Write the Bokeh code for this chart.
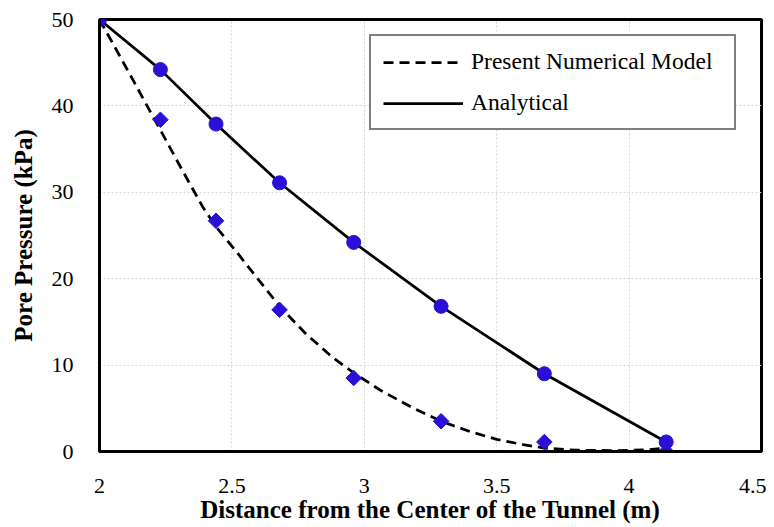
from bokeh.plotting import figure
from bokeh.models import Range1d, FixedTicker, Legend, LegendItem
from bokeh.embed import file_html
from bokeh.resources import INLINE

# ---- data ----
x_pts = [2.0, 2.23, 2.44, 2.68, 2.96, 3.29, 3.68, 4.14]
analytical = [50.0, 44.2, 37.9, 31.1, 24.2, 16.8, 9.0, 1.1]

diamond_x = [2.23, 2.44, 2.68, 2.96, 3.29, 3.68, 4.14]
diamond_y = [38.4, 26.7, 16.4, 8.5, 3.5, 1.1, 0.0]

model_x = [2.00, 2.06, 2.13, 2.23, 2.31, 2.39, 2.44, 2.51, 2.60, 2.68, 2.78, 2.88,
           2.96, 3.06, 3.18, 3.29, 3.40, 3.50, 3.60, 3.68, 3.80, 3.95, 4.07, 4.14]
model_y = [50.0, 46.7, 42.8, 37.2, 32.7, 28.3, 26.0, 23.4, 19.9, 16.8, 13.6, 10.9,
           9.1, 7.1, 5.1, 3.5, 2.3, 1.4, 0.8, 0.4, 0.15, 0.1, 0.2, 0.4]

x_ticks = [2, 2.5, 3, 3.5, 4, 4.5]
x_tick_labels = ["2", "2.5", "3", "3.5", "4", "4.5"]
y_ticks = [0, 10, 20, 30, 40, 50]
y_tick_labels = ["0", "10", "20", "30", "40", "50"]

series_names = ["Present Numerical Model", "Analytical"]
x_title = "Distance from the Center of the Tunnel (m)"
y_title = "Pore Pressure (kPa)"

FONT = "Liberation Serif"
MARK = "#2a0fd6"

p = figure(width=766, height=525, output_backend="svg", toolbar_location=None,
           x_range=Range1d(2, 4.5), y_range=Range1d(0, 50),
           min_border_left=99, min_border_right=5, min_border_top=19, min_border_bottom=60)
p.background_fill_color = "white"
p.border_fill_color = "white"
p.outline_line_color = "black"
p.outline_line_width = 3

for ax in (p.xaxis, p.yaxis):
    ax.major_tick_in = 0
    ax.major_tick_out = 0
    ax.minor_tick_in = 0
    ax.minor_tick_out = 0
    ax.axis_line_color = "black"
    ax.axis_line_width = 3
    ax.major_label_text_font = FONT
    ax.major_label_text_font_size = "22px"
    ax.major_label_text_color = "black"
    ax.axis_label_text_font = FONT
    ax.axis_label_text_font_size = "25px"
    ax.axis_label_text_font_style = "bold"
    ax.axis_label_text_color = "black"

p.xaxis.ticker = FixedTicker(ticks=x_ticks)
p.yaxis.ticker = FixedTicker(ticks=y_ticks)
p.xaxis.major_label_overrides = {float(t): l for t, l in zip(x_ticks, x_tick_labels)}
p.yaxis.major_label_overrides = {float(t): l for t, l in zip(y_ticks, y_tick_labels)}
p.xaxis.major_label_standoff = 27
p.yaxis.major_label_standoff = 26
p.xaxis.axis_label_standoff = 0
p.yaxis.axis_label_standoff = 12
p.xaxis.axis_label = x_title
p.yaxis.axis_label = y_title

for g in (p.xgrid, p.ygrid):
    g.grid_line_color = "#d4d4d4"
    g.grid_line_dash = "2 2"
    g.grid_line_width = 1

r_model = p.line(model_x, model_y, line_color="black", line_width=2.75, line_dash="10 6")
r_anal = p.line(x_pts, analytical, line_color="black", line_width=2.75)
p.scatter(x_pts, analytical, marker="circle", size=14, fill_color=MARK, line_color=MARK)
p.scatter(diamond_x, diamond_y, marker="square", angle=0.785398, size=11,
          fill_color=MARK, line_color=MARK)

legend = Legend(items=[LegendItem(label=series_names[0], renderers=[r_model]),
                       LegendItem(label=series_names[1], renderers=[r_anal])],
                location=(270, 321))
legend.label_text_font = FONT
legend.label_text_font_size = "23.5px"
legend.label_text_color = "black"
legend.glyph_width = 80
legend.label_standoff = 8
legend.label_width = 251
legend.padding = 12
legend.spacing = 14
legend.border_line_color = "black"
legend.border_line_width = 2
legend.background_fill_color = "white"
legend.background_fill_alpha = 1
p.add_layout(legend)

open("out.html", "w").write(file_html(p, INLINE))
